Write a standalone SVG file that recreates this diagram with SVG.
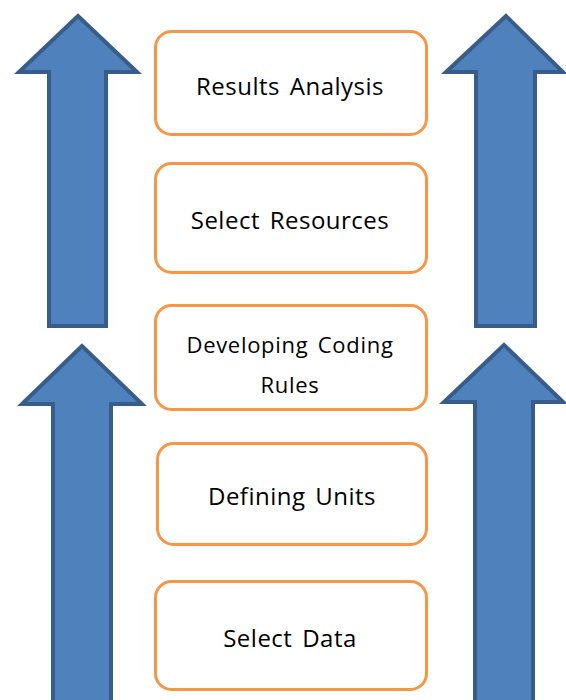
<svg xmlns="http://www.w3.org/2000/svg" width="566" height="700" viewBox="0 0 566 700">
<style>
.arrow{fill:#4f81bd;stroke:#385d8a;stroke-width:4;stroke-linejoin:miter}
.box{fill:#ffffff;stroke:#f79646;stroke-width:3}
.lbl{font-family:"Open Sans","Noto Sans",sans-serif;font-size:24px;fill:#000000;text-anchor:middle;letter-spacing:0.5px;word-spacing:3px}
.lbl2{font-family:"Open Sans","Noto Sans",sans-serif;font-size:22px;fill:#000000;text-anchor:middle;letter-spacing:0.7px;word-spacing:3px}
</style>
<rect width="566" height="700" fill="#ffffff"/>
<g id="connectors">
<polygon class="arrow" points="78,16 19,72 49,72 49,326 106,326 106,72 137,72"/>
<polygon class="arrow" points="506,16 446,72 476,72 476,326 535,326 535,72 563,72"/>
<polygon class="arrow" points="82,346 22,404 53,404 53,702 111,702 111,404 142,404"/>
<polygon class="arrow" points="504,345 444,402 475,402 475,702 533,702 533,402 563,402"/>
</g>
<g id="node-results">
<rect class="box" x="155.5" y="31.5" width="271" height="103" rx="16"/>
<text class="lbl" x="290" y="95">Results Analysis</text>
</g>
<g id="node-resources">
<rect class="box" x="155.5" y="163.5" width="271" height="109" rx="16"/>
<text class="lbl" x="290" y="229">Select Resources</text>
</g>
<g id="node-coding">
<rect class="box" x="155.5" y="305.5" width="271" height="104" rx="16"/>
<text class="lbl2" x="290" y="353">Developing Coding</text>
<text class="lbl2" x="290" y="393">Rules</text>
</g>
<g id="node-units">
<rect class="box" x="157.5" y="443.5" width="269" height="101" rx="16"/>
<text class="lbl" x="292" y="505">Defining Units</text>
</g>
<g id="node-data">
<rect class="box" x="155.5" y="581.5" width="271" height="108" rx="16"/>
<text class="lbl" x="290" y="647">Select Data</text>
</g>
</svg>
